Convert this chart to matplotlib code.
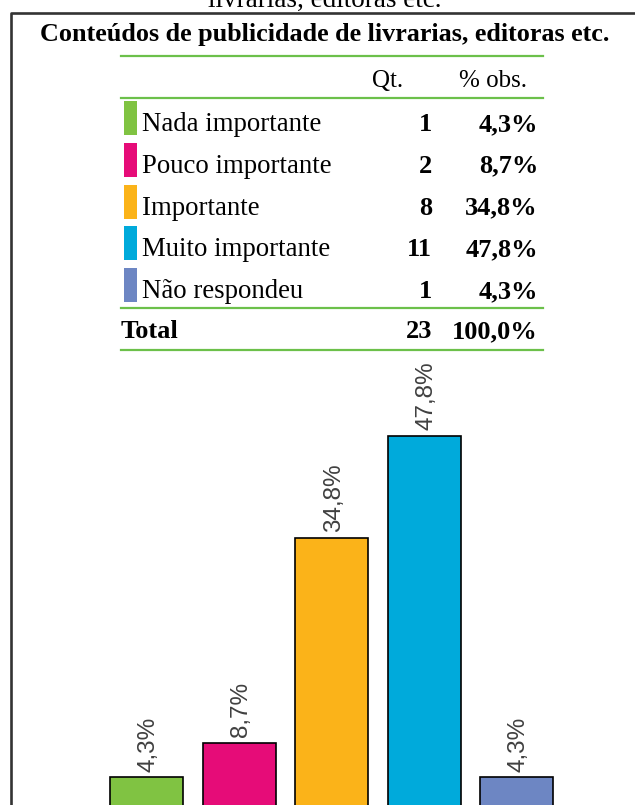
import matplotlib.pyplot as plt
from matplotlib.lines import Line2D
from matplotlib.patches import Rectangle

# dados
categorias = ['Nada importante', 'Pouco importante', 'Importante', 'Muito importante', 'Não respondeu']
qtd = [1, 2, 8, 11, 1]
pct = [4.3, 8.7, 34.8, 47.8, 4.3]
total_qtd = 23
total_pct = 100.0
cores = ['#80C342', '#E60C78', '#FBB319', '#00AADB', '#6D86C3']

titulo = 'Conteúdos de publicidade de livrarias, editoras etc.'
W, H = 635, 805
serif = ['Liberation Serif', 'DejaVu Serif']
sans = ['Liberation Sans', 'DejaVu Sans']


def fx(x):
    return x / W


def fy(y):
    return 1 - y / H


def br(v):
    return f'{v:.1f}'.replace('.', ',') + '%'


fig = plt.figure(figsize=(W / 100, H / 100), dpi=100, facecolor='white')

# texto cortado no topo
fig.text(fx(325), fy(7), 'livrarias, editoras etc.', ha='center', va='baseline',
         fontsize=19.5, family=serif, color='black')

# moldura (esquerda e topo)
fig.add_artist(Line2D([fx(11), fx(11), fx(W)], [fy(H), fy(13), fy(13)],
                      transform=fig.transFigure, color='#333333', lw=1.9))

fig.text(fx(325), fy(41), titulo, ha='center', va='baseline',
         fontsize=18.8, fontweight='bold', family=serif)

# linhas verdes da tabela
verde = '#6CC04A'
for yl in [56, 98, 308, 350]:
    fig.add_artist(Line2D([fx(121), fx(543)], [fy(yl), fy(yl)],
                          transform=fig.transFigure, color=verde, lw=1.6))

fig.text(fx(403), fy(87), 'Qt.', ha='right', va='baseline', fontsize=18, family=serif)
fig.text(fx(527), fy(87), '% obs.', ha='right', va='baseline', fontsize=18, family=serif)

y0, dy = 131, 41.8
for i, (cat, q, p, c) in enumerate(zip(categorias, qtd, pct, cores)):
    yb = y0 + i * dy
    fig.add_artist(Rectangle((fx(124), fy(yb + 4)), 13 / W, 34 / H,
                             transform=fig.transFigure, color=c, lw=0))
    fig.text(fx(142), fy(yb), cat, ha='left', va='baseline', fontsize=19.3, family=serif)
    fig.text(fx(432), fy(yb), str(q), ha='right', va='baseline', fontsize=19,
             fontweight='bold', family=serif)
    fig.text(fx(538), fy(yb), br(p), ha='right', va='baseline', fontsize=19,
             fontweight='bold', family=serif)

fig.text(fx(121), fy(338), 'Total', ha='left', va='baseline', fontsize=19,
         fontweight='bold', family=serif)
fig.text(fx(432), fy(338), str(total_qtd), ha='right', va='baseline', fontsize=19,
         fontweight='bold', family=serif)
fig.text(fx(538), fy(338), br(total_pct), ha='right', va='baseline', fontsize=19,
         fontweight='bold', family=serif)

# barras (a base zero fica abaixo da borda inferior)
esc = 7.846  # px por ponto percentual
ax = fig.add_axes([0, 0, 1, fy(360)])
ax.set_xlim(-146.5 / 92.5, (W - 146.5) / 92.5)
ax.set_ylim(6 / esc, (H - 360 + 6) / esc)
ax.axis('off')
xs = range(len(pct))
ax.bar(xs, pct, width=73 / 92.5, color=cores, edgecolor='black', linewidth=1.2,
       clip_on=False)
for x, p in zip(xs, pct):
    ax.annotate(br(p), (x, p), xytext=(1.5, 4), textcoords='offset points',
                rotation=90, ha='center', va='bottom', fontsize=17.5,
                family=sans, color='#404040')

fig.savefig('out.png', dpi=100, facecolor='white')
